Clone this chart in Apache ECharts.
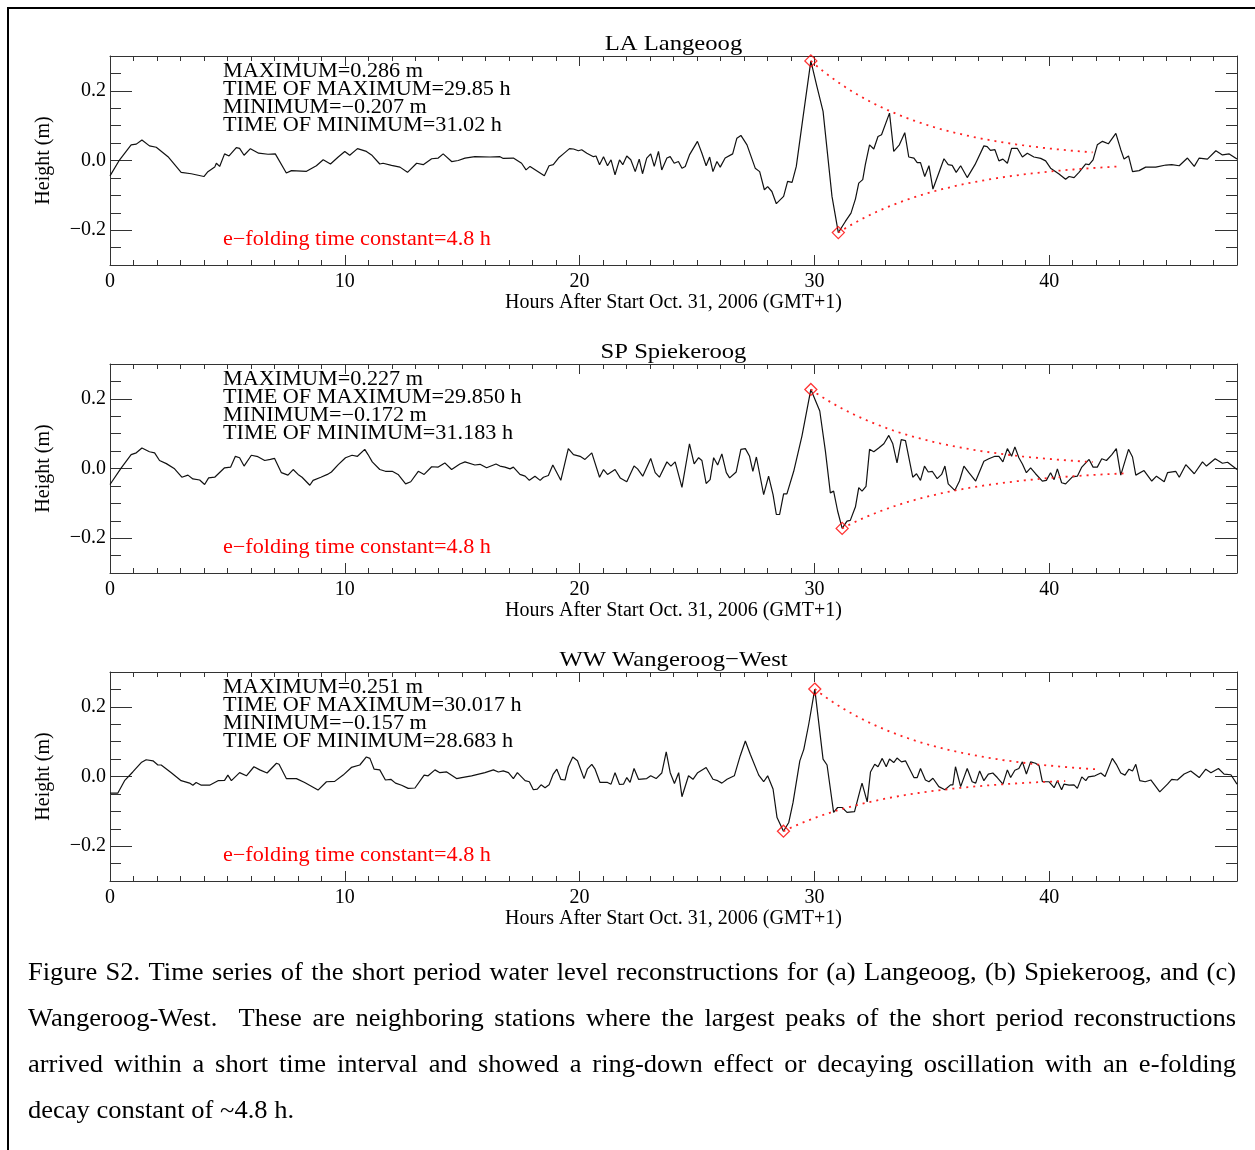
<!DOCTYPE html>
<html><head><meta charset="utf-8">
<script src="https://cdn.jsdelivr.net/npm/echarts@6/dist/echarts.min.js"></script>
<style>html,body{margin:0;padding:0;background:#fff}#c{width:1255px;height:1150px}</style>
</head><body><div id="c"></div>
<script>
// ---------------- DATA ----------------
const stationTitles = ['LA Langeoog', 'SP Spiekeroog', 'WW Wangeroog\u2212West'];
const annotations = [
  ['MAXIMUM=0.286 m','TIME OF MAXIMUM=29.85 h','MINIMUM=\u22120.207 m','TIME OF MINIMUM=31.02 h'],
  ['MAXIMUM=0.227 m','TIME OF MAXIMUM=29.850 h','MINIMUM=\u22120.172 m','TIME OF MINIMUM=31.183 h'],
  ['MAXIMUM=0.251 m','TIME OF MAXIMUM=30.017 h','MINIMUM=\u22120.157 m','TIME OF MINIMUM=28.683 h']
];
const peakMax = [0.286, 0.227, 0.251];
const peakMaxTime = [29.85, 29.850, 30.017];
const peakMin = [-0.207, -0.172, -0.157];
const peakMinTime = [31.02, 31.183, 28.683];
const eFoldingHours = 4.8;
const envelopeSpanHours = 12;
const eFoldLabel = 'e\u2212folding time constant=4.8 h';
const xAxisName = 'Hours After Start Oct. 31, 2006 (GMT+1)';
const yAxisName = 'Height (m)';
const xMajorTicks = [0, 10, 20, 30, 40];
const yMajorTicks = [-0.2, 0, 0.2];
const yMinorTicks = [-0.25,-0.2,-0.15,-0.1,-0.05,0,0.05,0.1,0.15,0.2,0.25];

const seriesLA = [[0,-0.044],[0.41,0.002],[0.90,0.045],[1.12,0.047],[1.36,0.059],[1.68,0.042],[1.97,0.038],[2.47,0.011],[3.03,-0.034],[3.46,-0.038],[4.00,-0.046],[4.17,-0.032],[4.46,-0.019],[4.53,-0.008],[4.67,-0.017],[4.88,0.019],[5.07,0.013],[5.38,0.037],[5.52,0.035],[5.71,0.015],[5.98,0.034],[6.33,0.021],[6.73,0.018],[7.04,0.019],[7.51,-0.036],[7.73,-0.029],[8.37,-0.031],[8.79,-0.015],[9.08,0.002],[9.39,-0.010],[9.72,0.010],[10.00,0.026],[10.21,0.015],[10.54,0.034],[10.92,0.026],[11.14,0.016],[11.49,-0.010],[11.63,-0.008],[11.99,-0.014],[12.35,-0.019],[12.67,-0.034],[13.06,-0.008],[13.34,-0.012],[13.70,0.005],[13.98,0.007],[14.19,0.019],[14.55,-0.003],[14.83,0.000],[15.12,0.007],[15.54,0.011],[16.18,0.010],[16.61,0.011],[16.75,0.006],[17.18,0.007],[17.53,-0.008],[17.72,-0.027],[17.89,-0.017],[18.50,-0.044],[18.70,-0.015],[18.88,-0.012],[19.10,0.007],[19.31,0.019],[19.57,0.034],[19.74,0.033],[19.95,0.028],[20.09,0.031],[20.31,0.021],[20.59,0.011],[20.70,0.013],[20.85,-0.012],[21.02,0.011],[21.19,-0.015],[21.34,0.002],[21.51,-0.041],[21.70,0.002],[21.84,-0.012],[22.01,0.013],[22.18,0.002],[22.37,-0.032],[22.54,0.004],[22.68,-0.038],[22.86,0.007],[23.03,0.019],[23.18,-0.017],[23.36,0.026],[23.50,-0.027],[23.72,0.007],[23.86,0.011],[24.03,-0.008],[24.21,-0.003],[24.36,-0.022],[24.50,-0.017],[24.68,0.016],[25.02,0.055],[25.21,0.021],[25.39,-0.015],[25.54,0.010],[25.68,-0.032],[25.85,-0.003],[25.99,-0.019],[26.20,0.007],[26.52,0.019],[26.70,0.064],[26.87,0.072],[27.13,0.045],[27.48,-0.022],[27.67,-0.032],[27.87,-0.084],[28.01,-0.075],[28.19,-0.089],[28.38,-0.124],[28.69,-0.103],[28.86,-0.060],[29.05,-0.063],[29.23,-0.017],[29.52,0.126],[29.85,0.286],[30.11,0.212],[30.37,0.141],[30.75,-0.103],[31.02,-0.207],[31.32,-0.175],[31.56,-0.151],[31.75,-0.110],[31.89,-0.065],[32.06,-0.055],[32.17,-0.012],[32.35,0.045],[32.53,0.033],[32.71,0.069],[32.86,0.074],[33.20,0.136],[33.38,0.026],[33.62,0.045],[33.85,0.080],[34.02,0.010],[34.24,0.007],[34.38,-0.006],[34.52,-0.006],[34.70,-0.046],[34.88,-0.015],[35.05,-0.082],[35.30,-0.036],[35.52,0.005],[35.70,-0.012],[35.87,-0.014],[36.04,-0.034],[36.23,-0.015],[36.51,-0.049],[36.84,-0.012],[37.22,0.042],[37.36,0.040],[37.50,0.029],[37.69,0.031],[37.86,-0.001],[38.03,0.004],[38.22,-0.008],[38.40,0.035],[38.64,0.035],[38.86,0.010],[39.07,0.021],[39.35,0.010],[39.64,0.006],[39.85,-0.001],[40.06,-0.022],[40.42,-0.039],[40.70,-0.054],[40.85,-0.046],[41.06,-0.049],[41.27,-0.034],[41.56,-0.010],[41.70,-0.012],[41.87,0.002],[42.05,0.045],[42.27,0.055],[42.52,0.048],[42.84,0.078],[43.05,0.031],[43.19,0.004],[43.38,0.013],[43.55,-0.032],[43.83,-0.029],[44.11,-0.019],[44.54,-0.019],[44.97,-0.013],[45.22,-0.012],[45.54,-0.015],[45.89,0.007],[46.18,-0.017],[46.39,0.007],[46.74,0.004],[47.10,0.028],[47.38,0.016],[47.67,0.019],[48.0,0.004]];

const seriesSP = [[0,-0.046],[0.48,0.002],[0.90,0.040],[1.12,0.045],[1.36,0.059],[1.68,0.048],[1.90,0.045],[2.11,0.023],[2.40,0.014],[2.75,-0.001],[3.06,-0.025],[3.32,-0.019],[3.53,-0.030],[3.82,-0.033],[4.03,-0.046],[4.20,-0.027],[4.46,-0.025],[4.88,0.002],[5.14,0.004],[5.34,0.035],[5.52,0.031],[5.71,0.007],[6.02,0.038],[6.30,0.034],[6.59,0.023],[6.83,0.026],[7.01,0.029],[7.30,-0.012],[7.58,-0.019],[7.80,-0.003],[8.01,-0.017],[8.18,-0.025],[8.51,-0.048],[8.65,-0.034],[8.98,-0.025],[9.26,-0.017],[9.43,-0.010],[9.72,0.011],[10.03,0.031],[10.31,0.038],[10.54,0.035],[10.85,0.055],[10.99,0.040],[11.17,0.019],[11.49,-0.003],[11.73,-0.008],[12.02,-0.008],[12.27,-0.017],[12.59,-0.044],[12.81,-0.038],[13.13,-0.008],[13.38,-0.017],[13.70,0.005],[13.98,0.004],[14.26,0.016],[14.55,-0.003],[14.90,0.013],[15.12,0.019],[15.54,0.010],[15.76,0.012],[16.04,0.002],[16.44,0.013],[16.61,0.007],[16.82,0.004],[17.04,-0.001],[17.18,0.004],[17.46,-0.017],[17.68,-0.022],[17.86,-0.034],[18.10,-0.022],[18.32,-0.034],[18.46,-0.025],[18.67,-0.020],[18.86,0.010],[19.20,-0.034],[19.52,0.057],[19.74,0.040],[20.02,0.035],[20.23,0.026],[20.52,0.045],[20.85,-0.025],[21.02,-0.003],[21.19,-0.017],[21.51,-0.003],[21.73,-0.027],[22.01,-0.038],[22.32,0.007],[22.47,-0.001],[22.69,-0.022],[23.03,0.029],[23.22,-0.012],[23.40,-0.025],[23.72,0.019],[23.89,0.007],[24.07,0.019],[24.36,-0.054],[24.68,0.071],[24.88,0.013],[25.07,0.031],[25.21,0.023],[25.39,-0.043],[25.56,-0.032],[25.71,0.031],[25.88,0.010],[26.06,0.042],[26.25,-0.012],[26.39,-0.027],[26.67,-0.010],[26.87,0.055],[27.06,0.057],[27.24,0.035],[27.38,-0.008],[27.53,0.033],[27.84,-0.075],[28.05,-0.022],[28.24,-0.075],[28.38,-0.132],[28.52,-0.132],[28.69,-0.073],[28.83,-0.073],[29.12,-0.008],[29.47,0.093],[29.85,0.227],[30.23,0.165],[30.47,0.050],[30.68,-0.070],[30.82,-0.065],[30.99,-0.122],[31.183,-0.172],[31.39,-0.151],[31.53,-0.149],[31.75,-0.110],[31.89,-0.055],[32.03,-0.065],[32.20,-0.051],[32.35,0.055],[32.53,0.048],[32.74,0.059],[32.96,0.071],[33.17,0.095],[33.34,0.071],[33.52,0.016],[33.70,0.083],[33.88,0.080],[34.19,-0.025],[34.35,-0.015],[34.52,-0.034],[34.69,0.007],[34.85,-0.010],[35.02,-0.008],[35.23,-0.029],[35.42,-0.017],[35.56,0.007],[35.70,-0.044],[35.98,-0.063],[36.18,-0.036],[36.37,0.007],[36.58,-0.012],[36.87,-0.036],[37.22,0.021],[37.43,0.028],[37.69,0.035],[37.86,0.035],[38.03,0.019],[38.22,0.057],[38.40,0.035],[38.54,0.062],[38.71,0.031],[38.86,0.013],[39.03,-0.012],[39.21,0.002],[39.42,-0.015],[39.71,-0.036],[39.88,-0.034],[40.06,-0.012],[40.21,-0.032],[40.35,-0.001],[40.53,-0.041],[40.70,-0.044],[40.99,-0.024],[41.20,-0.022],[41.39,0.004],[41.70,0.026],[41.87,0.004],[42.05,0.004],[42.24,0.028],[42.44,0.023],[42.67,0.040],[42.86,0.057],[43.05,-0.019],[43.38,0.055],[43.55,0.033],[43.69,-0.019],[44.04,-0.006],[44.37,-0.036],[44.57,-0.022],[44.90,-0.038],[45.04,-0.012],[45.39,-0.008],[45.54,-0.025],[45.82,0.011],[46.18,-0.015],[46.53,0.019],[46.70,0.007],[47.07,0.028],[47.38,0.015],[47.60,0.018],[48.0,-0.003]];

const seriesWW = [[0,-0.048],[0.33,-0.048],[0.62,-0.012],[0.97,0.013],[1.33,0.040],[1.54,0.048],[1.83,0.045],[2.04,0.033],[2.18,0.033],[2.61,0.011],[3.03,-0.012],[3.39,-0.019],[3.53,-0.025],[3.67,-0.017],[3.89,-0.025],[4.24,-0.025],[4.60,-0.012],[4.88,-0.011],[5.02,0.004],[5.17,-0.012],[5.52,0.011],[5.81,0.002],[6.13,0.028],[6.38,0.019],[6.69,0.010],[7.09,0.038],[7.20,0.035],[7.51,-0.006],[7.94,-0.006],[8.29,-0.017],[8.86,-0.039],[9.22,-0.015],[9.57,-0.014],[9.93,0.004],[10.28,0.026],[10.64,0.033],[10.92,0.056],[11.07,0.052],[11.25,0.021],[11.49,0.019],[11.73,-0.010],[11.96,-0.008],[12.16,-0.019],[12.42,-0.025],[12.70,-0.034],[12.99,-0.033],[13.38,0.004],[13.55,0.002],[13.84,0.019],[14.05,0.011],[14.34,0.013],[14.76,-0.006],[14.98,-0.003],[15.40,0.002],[15.97,0.011],[16.33,0.019],[16.54,0.013],[16.75,0.016],[16.97,0.011],[17.18,-0.006],[17.35,0.011],[17.68,-0.012],[17.86,-0.015],[18.03,-0.038],[18.20,-0.036],[18.36,-0.024],[18.53,-0.032],[18.70,-0.024],[18.88,0.007],[19.03,0.021],[19.20,-0.008],[19.38,-0.010],[19.52,0.028],[19.71,0.056],[19.91,0.045],[20.19,-0.006],[20.33,0.021],[20.52,0.035],[20.66,0.021],[20.87,-0.017],[21.19,-0.017],[21.34,-0.022],[21.51,0.011],[21.70,-0.023],[21.87,-0.022],[22.01,-0.003],[22.15,-0.017],[22.32,0.023],[22.51,-0.008],[22.86,-0.006],[23.03,0.002],[23.26,-0.006],[23.50,0.010],[23.69,0.071],[23.86,0.011],[24.04,-0.020],[24.22,0.011],[24.36,-0.058],[24.64,0.002],[24.83,-0.008],[25.03,0.011],[25.39,0.026],[25.68,-0.008],[25.88,-0.012],[26.06,-0.019],[26.28,-0.008],[26.59,0.002],[26.84,0.059],[27.06,0.102],[27.27,0.064],[27.63,0.004],[27.84,-0.015],[28.01,0.002],[28.24,-0.036],[28.41,-0.118],[28.683,-0.157],[28.91,-0.132],[29.09,-0.075],[29.38,0.045],[29.55,0.078],[29.76,0.150],[30.017,0.251],[30.37,0.050],[30.54,0.033],[30.82,-0.103],[30.99,-0.089],[31.18,-0.089],[31.39,-0.103],[31.71,-0.101],[31.96,-0.036],[32.03,-0.019],[32.25,-0.073],[32.39,0.013],[32.57,0.035],[32.71,0.028],[32.89,0.052],[33.06,0.028],[33.20,0.050],[33.38,0.040],[33.52,0.053],[33.71,0.042],[33.88,0.045],[34.24,-0.003],[34.38,-0.003],[34.52,0.023],[34.73,-0.010],[34.88,-0.015],[35.05,-0.005],[35.30,-0.029],[35.56,-0.038],[35.80,-0.024],[35.90,-0.024],[36.01,0.028],[36.23,-0.029],[36.51,0.023],[36.72,-0.015],[36.87,-0.019],[37.04,0.016],[37.22,-0.012],[37.41,0.007],[37.60,0.010],[37.79,-0.003],[38.03,-0.022],[38.22,0.019],[38.36,-0.003],[38.54,0.018],[38.71,0.023],[38.86,0.042],[39.03,0.007],[39.21,0.042],[39.42,0.038],[39.57,0.031],[39.71,-0.015],[39.99,-0.015],[40.21,-0.032],[40.35,-0.012],[40.53,-0.038],[40.63,-0.022],[40.85,-0.025],[41.06,-0.024],[41.20,-0.034],[41.39,-0.001],[41.56,-0.012],[41.67,-0.001],[41.95,0.002],[42.20,0.010],[42.38,0.000],[42.69,0.052],[42.86,0.035],[43.05,0.010],[43.23,0.004],[43.40,0.021],[43.55,0.016],[43.69,0.035],[43.86,-0.012],[44.09,-0.015],[44.33,-0.010],[44.71,-0.044],[45.04,-0.022],[45.22,-0.008],[45.46,-0.010],[45.75,0.007],[46.03,0.016],[46.39,-0.003],[46.67,0.021],[46.89,0.011],[47.21,0.023],[47.45,0.007],[47.74,0.005],[48.0,-0.022]];

const captionLines = [
  'Figure S2. Time series of the short period water level reconstructions for (a) Langeoog, (b) Spiekeroog, and (c)',
  'Wangeroog-West.  These are neighboring stations where the largest peaks of the short period reconstructions',
  'arrived within a short time interval and showed a ring-down effect or decaying oscillation with an e-folding',
  'decay constant of ~4.8 h.'
];

// ---------------- LAYOUT / STYLE ----------------
const stationSeries = [seriesLA, seriesSP, seriesWW];
const FONT = '"Liberation Serif","Times New Roman",serif';
const GRID_LEFT = 110, GRID_W = 1127, GRID_H = 209, GRID_TOP0 = 56, GRID_STEP = 308;
const X_MIN = 0, X_MAX = 48;
const xMinorTicks = [];
for (let h = X_MIN; h <= X_MAX; h += 1) xMinorTicks.push(h);
const AXIS_COLOR = '#333';

function fmtY(v) {
  if (Math.abs(v) < 1e-9) return '0.0';
  return (v < 0 ? '\u2212' : '') + Math.abs(v).toFixed(1);
}

function envelope(t0, amp) {
  const pts = [];
  const steps = 48;
  for (let k = 0; k <= steps; k++) {
    const t = t0 + envelopeSpanHours * k / steps;
    pts.push([t, amp * Math.exp(-(t - t0) / eFoldingHours)]);
  }
  return pts;
}

const grids = [], xAxes = [], yAxes = [], series = [], graphics = [];

for (let i = 0; i < 3; i++) {
  const top = GRID_TOP0 + i * GRID_STEP;
  grids.push({left: GRID_LEFT, top: top, width: GRID_W, height: GRID_H, show: false});
  const lineOff = {show: false, onZero: false};
  const lineOn = {show: true, onZero: false, lineStyle: {color: AXIS_COLOR, width: 1}};
  const xc = {gridIndex: i, type: 'value', min: X_MIN, max: X_MAX, splitLine: {show: false}, axisLine: lineOff, axisLabel: {show: false}};
  xAxes.push(Object.assign({}, xc, {
    position: 'bottom', axisLine: lineOn,
    axisTick: {show: true, inside: true, length: 10, customValues: xMajorTicks, lineStyle: {color: AXIS_COLOR}},
    axisLabel: {show: true, customValues: xMajorTicks, margin: 7, fontSize: 20, fontFamily: FONT, color: '#000'},
    name: xAxisName, nameLocation: 'middle', nameGap: 27,
    nameTextStyle: {fontSize: 20, fontFamily: FONT, color: '#000'}
  }));
  xAxes.push(Object.assign({}, xc, {position: 'bottom', axisTick: {show: true, inside: true, length: 5, customValues: xMinorTicks, lineStyle: {color: AXIS_COLOR}}}));
  xAxes.push(Object.assign({}, xc, {position: 'top', axisLine: lineOn, axisTick: {show: true, inside: true, length: 10, customValues: xMajorTicks, lineStyle: {color: AXIS_COLOR}}}));
  xAxes.push(Object.assign({}, xc, {position: 'top', axisTick: {show: true, inside: true, length: 5, customValues: xMinorTicks, lineStyle: {color: AXIS_COLOR}}}));

  const yc = {gridIndex: i, type: 'value', min: -0.3, max: 0.3, splitLine: {show: false}, axisLine: lineOff, axisLabel: {show: false}};
  yAxes.push(Object.assign({}, yc, {
    position: 'left', axisLine: lineOn,
    axisTick: {show: true, inside: true, length: 22, customValues: yMajorTicks, lineStyle: {color: AXIS_COLOR}},
    axisLabel: {show: true, customValues: yMajorTicks, margin: 4, fontSize: 20, fontFamily: FONT, color: '#000', formatter: fmtY},
    name: yAxisName, nameLocation: 'middle', nameGap: 56,
    nameTextStyle: {fontSize: 20, fontFamily: FONT, color: '#000'}
  }));
  yAxes.push(Object.assign({}, yc, {position: 'left', axisTick: {show: true, inside: true, length: 11, customValues: yMinorTicks, lineStyle: {color: AXIS_COLOR}}}));
  yAxes.push(Object.assign({}, yc, {position: 'right', axisLine: lineOn, axisTick: {show: true, inside: true, length: 22, customValues: yMajorTicks, lineStyle: {color: AXIS_COLOR}}}));
  yAxes.push(Object.assign({}, yc, {position: 'right', axisTick: {show: true, inside: true, length: 11, customValues: yMinorTicks, lineStyle: {color: AXIS_COLOR}}}));

  const ax = {xAxisIndex: 4 * i, yAxisIndex: 4 * i, animation: false, silent: true};
  series.push(Object.assign({}, ax, {type: 'line', data: stationSeries[i], showSymbol: false, lineStyle: {color: '#111', width: 1.2}, z: 2}));
  const dotted = {type: 'line', showSymbol: false, lineStyle: {color: '#ff2222', width: 1.8, type: [2, 5]}, z: 3};
  series.push(Object.assign({}, ax, dotted, {data: envelope(peakMaxTime[i], peakMax[i])}));
  series.push(Object.assign({}, ax, dotted, {data: envelope(peakMinTime[i], peakMin[i])}));
  series.push(Object.assign({}, ax, {type: 'scatter', symbol: 'diamond', symbolSize: 12,
    data: [[peakMaxTime[i], peakMax[i]], [peakMinTime[i], peakMin[i]]],
    itemStyle: {color: 'rgba(0,0,0,0)', borderColor: '#ff0000', borderWidth: 1.3}, z: 4}));

  // texts
  graphics.push({type: 'text', x: GRID_LEFT + GRID_W / 2, y: top - 12, scaleX: 1.12,
    style: {text: stationTitles[i], font: '22px ' + FONT, fill: '#000', align: 'center', verticalAlign: 'middle', textAlign: 'center', textVerticalAlign: 'middle'}});
  annotations[i].forEach((s, k) => {
    graphics.push({type: 'text', x: 223, y: top + 16 + 18 * k, scaleX: 1.11,
      style: {text: s, font: '20px ' + FONT, fill: '#000', align: 'left', verticalAlign: 'middle', textAlign: 'left', textVerticalAlign: 'middle'}});
  });
  graphics.push({type: 'text', x: 223, y: top + 184, scaleX: 1.11,
    style: {text: eFoldLabel, font: '20px ' + FONT, fill: '#ff0000', align: 'left', verticalAlign: 'middle', textAlign: 'left', textVerticalAlign: 'middle'}});
}

// frame lines of the figure box
graphics.push({type: 'line', shape: {x1: 8, y1: 7, x2: 8, y2: 1150}, style: {stroke: '#000', lineWidth: 2}});
graphics.push({type: 'line', shape: {x1: 7, y1: 8, x2: 1255, y2: 8}, style: {stroke: '#000', lineWidth: 2}});

// justified caption
(function () {
  const CAP_SIZE = 25, CAP_SCALE = 1.06, CAP_LEFT = 28, CAP_RIGHT = 1236, CAP_Y0 = 973, CAP_DY = 46;
  const font = CAP_SIZE + 'px ' + FONT;
  const ctx = document.createElement('canvas').getContext('2d');
  ctx.font = font;
  const spaceW = ctx.measureText(' ').width * CAP_SCALE;
  captionLines.forEach((line, i) => {
    const words = line.split(' ');
    const ws = words.map(w => ctx.measureText(w).width * CAP_SCALE);
    const total = ws.reduce((a, b) => a + b, 0);
    const justify = i < captionLines.length - 1;
    const gap = justify ? (CAP_RIGHT - CAP_LEFT - total) / (words.length - 1) : spaceW;
    let x = CAP_LEFT;
    const y = CAP_Y0 + i * CAP_DY;
    words.forEach((w, j) => {
      if (w) graphics.push({type: 'text', x: x, y: y, scaleX: CAP_SCALE,
        style: {text: w, font: font, fill: '#000', align: 'left', verticalAlign: 'middle', textAlign: 'left', textVerticalAlign: 'middle'}});
      x += ws[j] + gap;
    });
  });
})();

const chart = echarts.init(document.getElementById('c'), null, {renderer: 'canvas'});
chart.setOption({
  animation: false,
  backgroundColor: '#fff',
  textStyle: {fontFamily: FONT},
  grid: grids, xAxis: xAxes, yAxis: yAxes, series: series, graphic: graphics
});
</script></body></html>
